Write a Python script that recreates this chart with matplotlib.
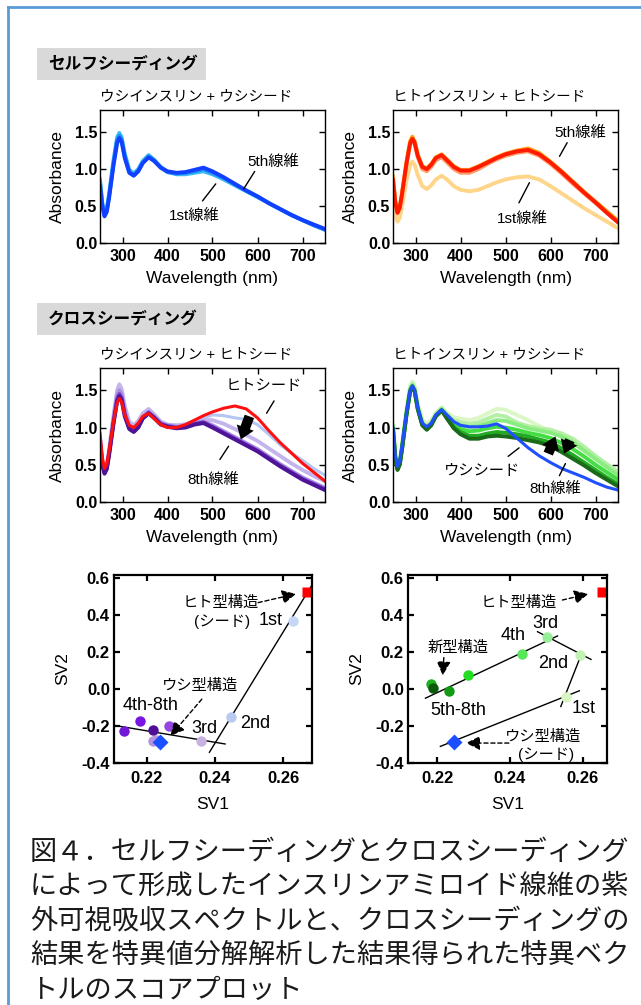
import matplotlib.pyplot as plt
from matplotlib.lines import Line2D
from matplotlib.patches import Rectangle

plt.rcParams['font.family'] = ['Liberation Sans', 'Noto Sans CJK JP']

# wavelength grid (nm) used for every spectrum
wl = [250, 255, 260, 265, 270, 280, 288, 293, 298, 305, 315, 325, 335, 345, 358, 370, 385,
      400, 420, 440, 460, 480, 500, 525, 550, 575, 600, 625, 650, 675, 700, 725, 750]

# self seeding: bovine insulin + bovine seed
bov_self_1st = [0.86, 0.55, 0.40, 0.46, 0.66, 1.12, 1.43, 1.49, 1.43, 1.21, 0.99, 0.94, 1.00, 1.11, 1.19, 1.13, 1.03,
                0.96, 0.93, 0.93, 0.95, 0.97, 0.93, 0.86, 0.78, 0.70, 0.62, 0.54, 0.46, 0.38, 0.31, 0.24, 0.18]
bov_self_3rd = [0.82, 0.52, 0.38, 0.44, 0.63, 1.08, 1.39, 1.45, 1.40, 1.18, 0.97, 0.92, 0.98, 1.09, 1.17, 1.12, 1.02,
                0.96, 0.94, 0.95, 0.97, 1.00, 0.95, 0.88, 0.79, 0.71, 0.63, 0.54, 0.46, 0.38, 0.31, 0.24, 0.18]
bov_self_5th = [0.77, 0.50, 0.36, 0.42, 0.60, 1.05, 1.35, 1.42, 1.37, 1.15, 0.95, 0.91, 0.97, 1.08, 1.16, 1.11, 1.02,
                0.97, 0.95, 0.96, 0.99, 1.02, 0.97, 0.89, 0.80, 0.71, 0.63, 0.54, 0.46, 0.38, 0.31, 0.25, 0.19]

# self seeding: human insulin + human seed
hum_self_1st = [0.62, 0.38, 0.29, 0.34, 0.50, 0.85, 1.05, 1.10, 1.06, 0.92, 0.77, 0.73, 0.78, 0.86, 0.91, 0.86, 0.77,
                0.72, 0.70, 0.72, 0.77, 0.82, 0.86, 0.89, 0.90, 0.86, 0.77, 0.67, 0.57, 0.47, 0.38, 0.29, 0.20]
hum_self_2nd = [0.86, 0.55, 0.40, 0.47, 0.65, 1.06, 1.33, 1.39, 1.34, 1.16, 1.00, 0.97, 1.03, 1.12, 1.16, 1.09, 1.00,
                0.95, 0.95, 1.00, 1.07, 1.13, 1.18, 1.22, 1.24, 1.18, 1.07, 0.94, 0.80, 0.67, 0.54, 0.41, 0.28]
hum_self_3rd = [0.90, 0.57, 0.42, 0.49, 0.68, 1.10, 1.38, 1.44, 1.38, 1.20, 1.04, 1.01, 1.07, 1.16, 1.20, 1.13, 1.04,
                0.99, 0.99, 1.04, 1.10, 1.16, 1.21, 1.25, 1.28, 1.22, 1.10, 0.97, 0.83, 0.69, 0.56, 0.43, 0.30]
hum_self_5th = [0.85, 0.55, 0.41, 0.48, 0.66, 1.08, 1.35, 1.41, 1.36, 1.18, 1.03, 1.00, 1.06, 1.15, 1.19, 1.12, 1.03,
                0.98, 0.98, 1.03, 1.09, 1.15, 1.20, 1.24, 1.26, 1.20, 1.09, 0.96, 0.82, 0.68, 0.55, 0.41, 0.28]

# cross seeding: bovine insulin + human seed
hum_seed = [0.92, 0.60, 0.45, 0.50, 0.68, 1.08, 1.33, 1.39, 1.34, 1.17, 1.03, 1.00, 1.06, 1.15, 1.19, 1.12, 1.04,
            1.00, 1.00, 1.04, 1.10, 1.16, 1.21, 1.26, 1.29, 1.25, 1.13, 0.96, 0.80, 0.66, 0.52, 0.40, 0.28]
cross_b_1st = [0.85, 0.55, 0.42, 0.48, 0.68, 1.12, 1.43, 1.50, 1.45, 1.24, 1.06, 1.02, 1.08, 1.18, 1.24, 1.17, 1.08,
               1.04, 1.03, 1.05, 1.09, 1.13, 1.17, 1.16, 1.13, 1.11, 1.04, 0.91, 0.77, 0.66, 0.56, 0.45, 0.36]
cross_b_2nd = [0.88, 0.57, 0.43, 0.50, 0.70, 1.16, 1.50, 1.58, 1.52, 1.29, 1.08, 1.03, 1.09, 1.19, 1.25, 1.18, 1.08,
               1.04, 1.03, 1.04, 1.07, 1.10, 1.10, 1.05, 0.98, 0.90, 0.82, 0.72, 0.62, 0.52, 0.43, 0.35, 0.28]
cross_b_3rd = [0.84, 0.54, 0.41, 0.47, 0.66, 1.11, 1.43, 1.50, 1.45, 1.22, 1.01, 0.97, 1.03, 1.14, 1.21, 1.15, 1.06,
               1.03, 1.01, 1.02, 1.06, 1.08, 1.03, 0.95, 0.87, 0.79, 0.71, 0.61, 0.51, 0.42, 0.33, 0.26, 0.19]
cross_b_5th = [0.81, 0.52, 0.39, 0.45, 0.64, 1.07, 1.38, 1.45, 1.40, 1.18, 0.99, 0.95, 1.01, 1.13, 1.20, 1.14, 1.05,
               1.02, 1.00, 1.01, 1.05, 1.07, 1.01, 0.93, 0.85, 0.77, 0.69, 0.59, 0.49, 0.40, 0.31, 0.24, 0.17]
cross_b_8th = [0.79, 0.50, 0.38, 0.44, 0.62, 1.05, 1.35, 1.42, 1.37, 1.15, 0.98, 0.94, 1.00, 1.12, 1.19, 1.13, 1.04,
               1.01, 0.99, 1.00, 1.04, 1.06, 1.00, 0.92, 0.84, 0.76, 0.68, 0.58, 0.48, 0.39, 0.30, 0.23, 0.16]

# cross seeding: human insulin + bovine seed
bov_seed = [0.99, 0.62, 0.48, 0.55, 0.75, 1.20, 1.50, 1.56, 1.50, 1.27, 1.06, 1.01, 1.06, 1.17, 1.24, 1.17, 1.08,
            1.03, 1.01, 1.01, 1.02, 1.05, 0.99, 0.86, 0.73, 0.62, 0.53, 0.45, 0.39, 0.33, 0.26, 0.20, 0.16]
cross_h_1st = [1.05, 0.65, 0.48, 0.56, 0.77, 1.25, 1.56, 1.62, 1.56, 1.32, 1.11, 1.05, 1.10, 1.20, 1.27, 1.20, 1.14,
               1.12, 1.10, 1.13, 1.19, 1.25, 1.24, 1.17, 1.10, 1.02, 0.95, 0.87, 0.79, 0.68, 0.57, 0.47, 0.37]
cross_h_2nd = [1.02, 0.63, 0.47, 0.54, 0.75, 1.22, 1.53, 1.59, 1.53, 1.29, 1.08, 1.02, 1.07, 1.18, 1.26, 1.18, 1.10,
               1.07, 1.05, 1.07, 1.12, 1.17, 1.15, 1.07, 1.02, 0.99, 0.97, 0.92, 0.85, 0.74, 0.62, 0.51, 0.41]
cross_h_3rd = [1.00, 0.62, 0.46, 0.53, 0.74, 1.20, 1.51, 1.57, 1.51, 1.27, 1.06, 1.00, 1.05, 1.16, 1.25, 1.16, 1.07,
               1.03, 1.01, 1.02, 1.06, 1.10, 1.09, 1.04, 0.99, 0.96, 0.93, 0.88, 0.80, 0.69, 0.58, 0.47, 0.36]
cross_h_4th = [0.99, 0.61, 0.45, 0.52, 0.73, 1.19, 1.50, 1.56, 1.50, 1.26, 1.05, 0.99, 1.04, 1.16, 1.24, 1.15, 1.03,
               0.98, 0.95, 0.96, 0.99, 1.01, 1.00, 0.97, 0.93, 0.90, 0.86, 0.79, 0.71, 0.61, 0.50, 0.40, 0.30]
cross_h_5th = [0.98, 0.60, 0.44, 0.51, 0.72, 1.18, 1.49, 1.55, 1.49, 1.25, 1.04, 0.98, 1.04, 1.15, 1.23, 1.13, 1.01,
               0.94, 0.89, 0.89, 0.92, 0.94, 0.93, 0.91, 0.88, 0.84, 0.80, 0.72, 0.63, 0.53, 0.43, 0.33, 0.24]
cross_h_8th = [0.97, 0.58, 0.43, 0.50, 0.70, 1.17, 1.48, 1.55, 1.49, 1.25, 1.03, 0.97, 1.03, 1.15, 1.23, 1.12, 0.99,
               0.91, 0.85, 0.85, 0.88, 0.89, 0.88, 0.86, 0.83, 0.80, 0.75, 0.67, 0.58, 0.49, 0.39, 0.30, 0.21]

# SVD score plot, bovine insulin + human seed (1st, 2nd, 3rd, 4th-8th)
left_sv1 = [0.2629, 0.2448, 0.2358, 0.2228, 0.2219, 0.2133, 0.2180, 0.2217, 0.2265]
left_sv2 = [0.369, -0.151, -0.283, -0.275, -0.283, -0.229, -0.175, -0.224, -0.202]
left_cols = ['#c6d6f6', '#b9c9f2', '#c8b2e2', '#b594dc', '#b594dc', '#7216d8', '#7a14e4', '#4e0e98', '#9446e0']
left_fit1 = ([0.2384, 0.2688], [-0.342, 0.573])
left_fit2 = ([0.2104, 0.2430], [-0.196, -0.297])

# SVD score plot, human insulin + bovine seed (1st ... 8th)
right_sv1 = [0.2554, 0.2594, 0.2503, 0.2433, 0.2284, 0.2233, 0.2182, 0.2189]
right_sv2 = [-0.040, 0.186, 0.281, 0.191, 0.074, -0.009, 0.029, 0.005]
right_cols = ['#d8f5c2', '#c2f2b4', '#96ee96', '#5ae65a', '#22dd22', '#129a12', '#1eb01e', '#0b5a0b']
right_fits = [([0.2209, 0.2591], [-0.310, -0.009]),
              ([0.2540, 0.2594], [-0.094, 0.176]),
              ([0.2476, 0.2623], [0.311, 0.161]),
              ([0.2168, 0.2531], [-0.049, 0.288])]

# seeds in SV space
hum_seed_sv_left = (0.2670, 0.528)
bov_seed_sv_left = (0.2240, -0.285)
hum_seed_sv_right = (0.2652, 0.528)
bov_seed_sv_right = (0.2246, -0.288)

caption = ['図４．セルフシーディングとクロスシーディング',
           'によって形成したインスリンアミロイド線維の紫',
           '外可視吸収スペクトルと、クロスシーディングの',
           '結果を特異値分解解析した結果得られた特異ベク',
           'トルのスコアプロット']

W, H = 641, 1005
fig = plt.figure(figsize=(W / 100, H / 100), dpi=100)


def box(l, t, r, b):
    return [l / W, 1 - b / H, (r - l) / W, (b - t) / H]


def style(ax, lw=1.0):
    for s in ax.spines.values():
        s.set_linewidth(lw)
    ax.tick_params(direction='in', top=True, right=True, length=4, width=lw)


def spec_axes(l, t, r, b, title):
    ax = fig.add_axes(box(l, t, r, b))
    style(ax)
    ax.set_xlim(250, 750)
    ax.set_ylim(0, 1.8)
    ax.set_xticks([300, 400, 500, 600, 700])
    ax.set_yticks([0.0, 0.5, 1.0, 1.5])
    ax.set_yticklabels(['0.0', '0.5', '1.0', '1.5'])
    ax.tick_params(axis='x', pad=4, labelsize=11.5)
    ax.tick_params(axis='y', pad=2, labelsize=11.5)
    for lab in ax.get_xticklabels() + ax.get_yticklabels():
        lab.set_fontweight('bold')
    ax.set_xlabel('Wavelength (nm)', fontsize=12.5, va='center')
    ax.xaxis.set_label_coords(0.5, -0.265)
    ax.set_ylabel('Absorbance', fontsize=12.5, va='center')
    ax.yaxis.set_label_coords(-0.19, 0.5)
    ax.text(0.0, 1.1, title, transform=ax.transAxes, fontsize=10.5, ha='left', va='center')
    return ax


def lead(ax, p0, p1):
    ax.annotate('', xy=p1, xytext=p0, arrowprops=dict(arrowstyle='-', color='k', lw=1))


def big_arrow(ax, p0, p1):
    ax.annotate('', xy=p1, xytext=p0,
                arrowprops=dict(arrowstyle='simple,head_width=1.0,head_length=0.7,tail_width=0.55',
                                color='k', lw=0, mutation_scale=13, shrinkA=0, shrinkB=0))


def dash_arrow(ax, p0, p1):
    ax.annotate('', xy=p1, xytext=p0,
                arrowprops=dict(arrowstyle='-|>,head_width=0.35,head_length=0.7', color='k',
                                lw=1, linestyle=(0, (3, 2)), mutation_scale=12))


LW = 2.8

# panel 1
ax1 = spec_axes(100, 110, 325, 243, 'ウシインスリン + ウシシード')
ax1.plot(wl, bov_self_1st, color='#3cbcf5', lw=LW)
ax1.plot(wl, bov_self_3rd, color='#1f8cf5', lw=LW)
ax1.plot(wl, bov_self_5th, color='#1240ff', lw=LW)
ax1.text(634, 1.10, '5th線維', fontsize=11, ha='center', va='center')
lead(ax1, (566, 0.70), (597, 1.00))
ax1.text(459, 0.36, '1st線維', fontsize=11, ha='center', va='center')
lead(ax1, (474, 0.54), (511, 0.83))

# panel 2
ax2 = spec_axes(393, 110, 618, 243, 'ヒトインスリン + ヒトシード')
ax2.plot(wl, hum_self_1st, color='#ffd58a', lw=LW)
ax2.plot(wl, hum_self_2nd, color='#ff9c6c', lw=LW)
ax2.plot(wl, hum_self_3rd, color='#ffa418', lw=LW)
ax2.plot(wl, hum_self_5th, color='#ff1a00', lw=LW)
ax2.text(666, 1.49, '5th線維', fontsize=11, ha='center', va='center')
lead(ax2, (640, 1.39), (617, 1.14))
ax2.text(538, 0.33, '1st線維', fontsize=11, ha='center', va='center')
lead(ax2, (527, 0.51), (556, 0.85))

# panel 3
ax3 = spec_axes(100, 368, 325, 502, 'ウシインスリン + ヒトシード')
ax3.plot(wl, cross_b_1st, color='#b4c6f2', lw=2.2)
ax3.plot(wl, cross_b_2nd, color='#c4b4ee', lw=LW)
ax3.plot(wl, cross_b_3rd, color='#a88ee0', lw=LW)
ax3.plot(wl, cross_b_5th, color='#7a3ad0', lw=LW)
ax3.plot(wl, cross_b_8th, color='#4e1496', lw=LW)
ax3.plot(wl, hum_seed, color='#ff1010', lw=2.2)
ax3.text(613, 1.56, 'ヒトシード', fontsize=11, ha='center', va='center')
lead(ax3, (640, 1.39), (617, 1.16))
ax3.text(501, 0.30, '8th線維', fontsize=11, ha='center', va='center')
lead(ax3, (513, 0.54), (539, 0.78))
big_arrow(ax3, (582, 1.15), (563, 0.84))

# panel 4
ax4 = spec_axes(393, 368, 618, 502, 'ヒトインスリン + ウシシード')
ax4.plot(wl, cross_h_1st, color='#dcf7c6', lw=LW)
ax4.plot(wl, cross_h_2nd, color='#b4f0a4', lw=LW)
ax4.plot(wl, cross_h_3rd, color='#8aec80', lw=LW)
ax4.plot(wl, cross_h_4th, color='#44dd44', lw=LW)
ax4.plot(wl, cross_h_5th, color='#22aa22', lw=LW)
ax4.plot(wl, cross_h_8th, color='#1a6a1a', lw=LW)
ax4.plot(wl, bov_seed, color='#1f4fff', lw=2.2)
ax4.text(448, 0.41, 'ウシシード', fontsize=11, ha='center', va='center')
lead(ax4, (501, 0.59), (535, 0.75))
ax4.text(610, 0.17, '8th線維', fontsize=11, ha='center', va='center')
lead(ax4, (617, 0.32), (636, 0.55))
big_arrow(ax4, (595, 0.65), (611, 0.88))
big_arrow(ax4, (643, 0.83), (630, 0.65))


def sv_axes(l, t, r, b, xlim):
    ax = fig.add_axes(box(l, t, r, b))
    style(ax, lw=1.6)
    ax.set_xlim(*xlim)
    ax.set_ylim(-0.4, 0.618)
    ax.set_xticks([0.22, 0.24, 0.26])
    ax.set_xticklabels(['0.22', '0.24', '0.26'])
    ax.set_yticks([-0.4, -0.2, 0.0, 0.2, 0.4, 0.6])
    ax.set_yticklabels(['-0.4', '-0.2', '0.0', '0.2', '0.4', '0.6'])
    ax.tick_params(axis='x', pad=6, labelsize=12)
    ax.tick_params(axis='y', pad=3, labelsize=12)
    for lab in ax.get_xticklabels() + ax.get_yticklabels():
        lab.set_fontweight('bold')
    ax.set_xlabel('SV1', fontsize=12.5, va='center')
    ax.xaxis.set_label_coords(0.5, -0.223)
    ax.set_ylabel('SV2', fontsize=12.5, va='center')
    ax.yaxis.set_label_coords(-0.26, 0.5)
    return ax


# panel 5
ax5 = sv_axes(114, 575, 312, 763, (0.2104, 0.2685))
ax5.plot(*left_fit1, color='k', lw=1)
ax5.plot(*left_fit2, color='k', lw=1)
for x, y, c in zip(left_sv1, left_sv2, left_cols):
    ax5.plot(x, y, 'o', color=c, ms=7.5, mec='none')
ax5.plot(*bov_seed_sv_left, 'D', color='#1a50ff', ms=8, mec='none')
ax5.plot(*hum_seed_sv_left, 's', color='#ff0000', ms=7.5, mec='none')
ax5.text(0.2416, 0.465, 'ヒト型構造', fontsize=11, ha='center', va='center')
ax5.text(0.2421, 0.366, '(シード)', fontsize=11, ha='center', va='center')
dash_arrow(ax5, (0.2519, 0.465), (0.2646, 0.519))
ax5.text(0.2563, 0.369, '1st', fontsize=13, ha='center', va='center')
ax5.text(0.2519, -0.184, '2nd', fontsize=13, ha='center', va='center')
ax5.text(0.2369, -0.211, '3rd', fontsize=13, ha='center', va='center')
ax5.text(0.2210, -0.090, '4th-8th', fontsize=13, ha='center', va='center')
ax5.text(0.2357, 0.018, 'ウシ型構造', fontsize=11, ha='center', va='center')
dash_arrow(ax5, (0.2367, -0.043), (0.2264, -0.265))

# panel 6
ax6 = sv_axes(408, 575, 607, 763, (0.2120, 0.2667))
for fx, fy in right_fits:
    ax6.plot(fx, fy, color='k', lw=1)
for x, y, c in zip(right_sv1, right_sv2, right_cols):
    ax6.plot(x, y, 'o', color=c, ms=7.5, mec='none')
ax6.plot(*bov_seed_sv_right, 'D', color='#1a50ff', ms=8, mec='none')
ax6.plot(*hum_seed_sv_right, 's', color='#ff0000', ms=7.5, mec='none')
ax6.text(0.2423, 0.468, 'ヒト型構造', fontsize=11, ha='center', va='center')
dash_arrow(ax6, (0.2537, 0.479), (0.2623, 0.519))
ax6.text(0.2497, 0.357, '3rd', fontsize=13, ha='center', va='center')
ax6.text(0.2410, 0.288, '4th', fontsize=13, ha='center', va='center')
ax6.text(0.2520, 0.141, '2nd', fontsize=13, ha='center', va='center')
ax6.text(0.2603, -0.103, '1st', fontsize=13, ha='center', va='center')
ax6.text(0.2258, -0.115, '5th-8th', fontsize=13, ha='center', va='center')
ax6.text(0.2258, 0.222, '新型構造', fontsize=11, ha='center', va='center')
dash_arrow(ax6, (0.2219, 0.186), (0.2215, 0.059))
ax6.text(0.2492, -0.259, 'ウシ型構造', fontsize=11, ha='center', va='center')
ax6.text(0.2500, -0.355, '(シード)', fontsize=11, ha='center', va='center')
dash_arrow(ax6, (0.2405, -0.292), (0.2272, -0.292))

# section headers
for top, label in [(48, 'セルフシーディング'), (303, 'クロスシーディング')]:
    fig.add_artist(Rectangle((37 / W, 1 - (top + 32) / H), 169 / W, 32 / H,
                             transform=fig.transFigure, facecolor='#d9d9d9', edgecolor='none'))
    fig.text(48 / W, 1 - (top + 16) / H, label, fontsize=12, fontweight='bold',
             ha='left', va='center')

# blue frame (top and left only)
fig.add_artist(Line2D([8 / W, 8 / W], [0, 1 - 7 / H], transform=fig.transFigure,
                      color='#5b9bd5', lw=2))
fig.add_artist(Line2D([8 / W, 1], [1 - 7 / H, 1 - 7 / H], transform=fig.transFigure,
                      color='#5b9bd5', lw=2))

# caption
for i, line in enumerate(caption):
    fig.text(30 / W, 1 - (852 + 34.5 * i) / H, line, fontsize=19.6, color='#1a1a1a',
             family='Noto Sans CJK JP', ha='left', va='center')

fig.savefig('out.png', dpi=100)
